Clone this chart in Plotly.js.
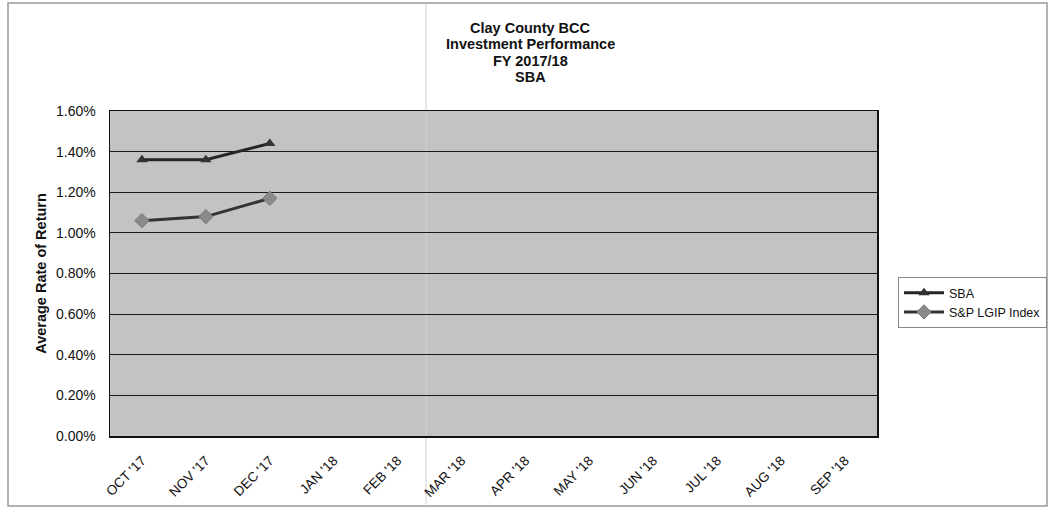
<!DOCTYPE html>
<html>
<head>
<meta charset="utf-8">
<script src="https://cdn.plot.ly/plotly-3.0.1.min.js"></script>
<style>
html,body{margin:0;padding:0;background:#fff;}
#chart{width:1053px;height:510px;}
</style>
</head>
<body>
<div id="chart"></div>
<script>
var months = ["OCT '17","NOV '17","DEC '17","JAN '18","FEB '18","MAR '18","APR '18","MAY '18","JUN '18","JUL '18","AUG '18","SEP '18"];
var sbaMonths = ["OCT '17","NOV '17","DEC '17"];
var sbaValues = [1.36, 1.36, 1.44];
var lgipValues = [1.06, 1.08, 1.17];
var yTicks = [0, 0.2, 0.4, 0.6, 0.8, 1.0, 1.2, 1.4, 1.6];
var titleLines = ["Clay County BCC", "Investment Performance", "FY 2017/18", "SBA"];

var W = 1053, H = 510;
var mL = 110, mR = 176, mT = 111, mB = 74;
var pw = W - mL - mR, ph = H - mT - mB;
function px(x){ return (x - mL) / pw; }
function py(y){ return (H - mB - y) / ph; }

var FONT = 'Liberation Sans, Arial, sans-serif';

var traces = [
  {
    x: sbaMonths, y: sbaValues, name: 'SBA', type: 'scatter', mode: 'lines+markers',
    line: {color: '#262626', width: 3},
    marker: {symbol: 'triangle-up', size: 10, color: '#333333'}
  },
  {
    x: sbaMonths, y: lgipValues, name: 'S&P LGIP Index', type: 'scatter', mode: 'lines+markers',
    line: {color: '#333333', width: 3},
    marker: {symbol: 'diamond', size: 11, color: '#8a8a8a', line: {color: '#777', width: 1}}
  }
];

var titleY = [28, 44, 61, 77];
var annotations = titleLines.map(function(t, i){
  return {
    text: '<b>' + t + '</b>', xref: 'paper', yref: 'paper',
    x: px(530), xanchor: 'center', y: py(titleY[i]), yanchor: 'middle',
    showarrow: false, font: {size: 14.5, family: FONT, color: '#111'}
  };
});

var layout = {
  width: W, height: H,
  margin: {l: mL, r: mR, t: mT, b: mB, pad: 0, autoexpand: false},
  paper_bgcolor: '#ffffff',
  plot_bgcolor: '#c3c3c3',
  font: {family: FONT, color: '#111', size: 12},
  annotations: annotations,
  xaxis: {
    type: 'category',
    categoryorder: 'array', categoryarray: months,
    range: [-0.5, 11.5],
    tickmode: 'array', tickvals: months, ticktext: months,
    tickangle: -45,
    tickfont: {size: 13.5, color: '#111'},
    showgrid: false, zeroline: false,
    showline: true, linecolor: '#111', linewidth: 1.5, mirror: true,
    ticks: 'outside', ticklen: 10, tickcolor: 'rgba(0,0,0,0)',
    automargin: false, fixedrange: true
  },
  yaxis: {
    range: [0, 1.6],
    tickmode: 'array', tickvals: yTicks,
    ticktext: yTicks.map(function(v){ return v.toFixed(2) + '%'; }),
    tickfont: {size: 14, color: '#111'},
    showgrid: true, gridcolor: '#1a1a1a', gridwidth: 1,
    zeroline: false,
    showline: true, linecolor: '#111', linewidth: 1.5, mirror: true,
    ticks: 'outside', ticklen: 10, tickcolor: 'rgba(0,0,0,0)',
    title: {text: '<b>Average Rate of Return</b>', font: {size: 14.5, color: '#111'}, standoff: 6},
    automargin: false, fixedrange: true
  },
  showlegend: true,
  legend: {
    xref: 'container', yref: 'container',
    x: 898 / W, xanchor: 'left', y: 1 - 277 / H, yanchor: 'top',
    bgcolor: '#ffffff', bordercolor: '#888', borderwidth: 1,
    font: {size: 12.5, color: '#111'},
    tracegroupgap: 2, itemwidth: 40
  },
  shapes: [
    {type: 'rect', xref: 'paper', yref: 'paper',
     x0: px(8), x1: px(1047), y0: py(506), y1: py(3),
     line: {color: '#999', width: 1.5}, fillcolor: 'rgba(0,0,0,0)', layer: 'below'},
    {type: 'line', xref: 'paper', yref: 'paper',
     x0: px(426), x1: px(426), y0: py(506), y1: py(3),
     line: {color: '#d0d0d0', width: 1}, layer: 'below'}
  ]
};

Plotly.newPlot('chart', traces, layout, {displayModeBar: false, staticPlot: true});
</script>
</body>
</html>
